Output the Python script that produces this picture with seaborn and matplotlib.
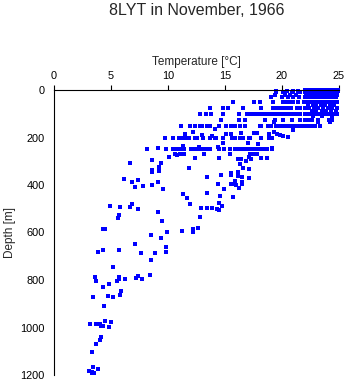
import matplotlib
matplotlib.use("Agg")
import matplotlib.pyplot as plt
import seaborn as sns
import pandas as pd

# Temperatures (deg C) recorded at the standard sampling depths (m)
temps_0m = [22.0, 22.3, 22.6, 22.9, 23.2, 23.5, 23.8, 24.1, 24.4, 24.7, 24.9]
temps_5m = [19.5, 20.4, 21.0, 21.4, 22.1, 22.5, 22.8, 23.1, 23.4, 23.7, 24.0, 24.3, 24.6, 24.9]
temps_10m = [19.5, 20.1, 20.9, 21.6, 22.0, 22.3, 22.6, 22.9, 23.2, 23.5, 23.8, 24.1, 24.4, 24.7]
temps_20m = [19.4, 20.3, 20.7, 21.2, 22.1, 22.4, 22.7, 23.0, 23.3, 23.6, 23.9, 24.2, 24.5, 24.8]
temps_30m = [19.0, 20.0, 20.5, 21.0, 21.5, 22.0, 22.3, 22.6, 22.9, 23.2, 23.5, 23.8, 24.1, 24.4, 24.7]
temps_50m = [15.7, 17.5, 18.1, 19.2, 20.1, 20.4, 20.7, 21.0, 21.4, 21.9, 22.2, 22.5, 22.8, 23.1,
             23.4, 23.7, 24.0, 24.3, 24.6, 24.8]
temps_62m = [22.3, 22.7, 23.0, 23.4, 23.8, 24.2, 24.6]
temps_75m = [13.7, 14.8, 15.3, 16.6, 18.2, 19.2, 19.5, 19.7, 20.1, 20.4, 20.8, 21.3, 21.6, 22.0,
             22.4, 22.8, 23.2, 23.6, 24.0, 24.4, 24.8]
temps_87m = [22.6, 23.0, 23.5, 23.9, 24.3, 24.7]
temps_100m = [12.8, 13.3, 13.8, 14.8, 16.2, 16.9, 17.1, 17.3, 17.5, 17.8, 18.2, 18.4, 18.7, 19.0,
              19.3, 19.6, 19.8, 20.1, 20.3, 20.6, 21.0, 21.3, 21.6, 22.0, 22.2, 22.5, 22.8, 23.1,
              23.4, 23.7, 24.0, 24.3, 24.6, 24.8]
temps_110m = [22.7, 23.5, 24.4]
temps_125m = [14.65, 16.2, 16.75, 18.5, 19.4, 20.1, 20.85, 21.6, 22.0, 22.3, 22.6, 23.2, 24.1, 24.35]
temps_135m = [19.3, 23.2, 24.2]
temps_150m = [11.1, 11.9, 12.4, 12.8, 13.0, 13.4, 13.7, 14.5, 15.1, 15.5, 15.9, 16.3, 16.75, 18.1,
              18.2, 18.8, 19.0, 19.5, 19.7, 20.1, 20.3, 20.6, 20.9, 21.1, 21.5, 21.8, 22.1, 22.4,
              22.75, 22.9, 23.3]
temps_200m = [9.7, 10.4, 11.0, 11.2, 11.6, 11.85, 12.4, 12.5, 13.1, 13.7, 14.1, 14.2, 14.8, 15.6,
              15.9, 16.3, 16.55, 17.1, 17.2, 18.2, 18.9, 19.1]
temps_250m = [8.2, 9.85, 10.4, 10.5, 10.8, 11.1, 11.4, 12.0, 12.3, 12.6, 12.8, 13.1, 13.4, 13.7,
              14.5, 14.9, 15.4, 15.9, 16.2, 16.55, 16.9, 17.2, 17.5, 17.8, 18.1, 18.4, 18.7, 19.1]

# Individual readings in the thermocline (150-600 m)
mid_depth = [165, 168, 178, 180, 180, 180, 178, 184, 184, 189, 189, 194, 194, 196, 187, 187, 187,
             222, 224, 227, 234, 241, 240, 246, 246, 268, 268, 268, 268, 270, 268, 268, 268, 274,
             282, 281, 288, 288, 288, 288, 291, 291, 292, 296, 300, 307, 307, 313, 326, 330, 330,
             333, 337, 340, 345, 345, 348, 358, 359, 361, 365, 368, 369, 376, 379, 383, 386, 386,
             389, 397, 397, 397, 396, 399, 400, 405, 410, 414, 415, 417, 435, 438, 446, 452, 456,
             477, 479, 481, 487, 487, 494, 494, 498, 498, 498, 501, 502, 505, 515, 526, 535, 540,
             552, 581, 584, 586, 586, 595, 598, 599]
mid_temp = [14.1, 21.0, 12.2, 16.4, 17.5, 17.8, 19.3, 11.5, 18.9, 13.0, 19.8, 13.9, 20.1, 20.5,
            15.1, 15.5, 19.6, 14.8, 17.0, 17.9, 11.35, 12.75, 14.4, 9.1, 19.1, 10.6, 11.05, 11.4,
            13.2, 15.4, 17.2, 17.5, 17.8, 10.8, 10.1, 17.1, 12.4, 14.5, 18.2, 18.65, 16.1, 16.4,
            17.3, 8.6, 16.8, 6.7, 9.4, 16.3, 9.2, 11.8, 16.55, 17.1, 8.6, 9.2, 8.6, 16.1, 15.5,
            14.65, 15.5, 16.1, 16.5, 13.4, 17.1, 6.1, 7.4, 15.9, 9.15, 16.5, 6.8, 14.4, 15.5, 15.7,
            16.5, 16.0, 8.6, 7.8, 7.1, 16.2, 14.9, 9.6, 13.45, 11.3, 14.6, 15.7, 11.7, 14.5, 6.8,
            11.9, 4.9, 14.7, 5.8, 6.7, 12.9, 13.4, 13.9, 7.4, 14.3, 14.45, 9.1, 5.7, 12.85, 5.65,
            9.5, 12.6, 12.2, 4.3, 4.5, 11.25, 9.9, 12.2]

# Individual readings in deep water (600-1200 m)
deep_depth = [611, 625, 650, 662, 672, 672, 681, 683, 685, 688, 717, 745, 779, 782, 786, 789, 792,
              794, 797, 797, 803, 805, 818, 831, 848, 865, 867, 873, 873, 911, 973, 975, 987, 987,
              987, 987, 994, 994, 997, 1041, 1053, 1071, 1105, 1168, 1173, 1184, 1188, 1190, 1193]
deep_temp = [8.5, 9.4, 7.1, 9.8, 4.3, 5.7, 9.85, 3.9, 7.6, 8.9, 8.5, 5.2, 8.4, 7.4, 5.7, 3.6, 7.2,
             5.7, 6.2, 7.7, 3.65, 5.5, 4.8, 4.3, 5.9, 5.8, 4.7, 3.4, 5.2, 4.4, 4.5, 5.0, 3.2, 3.65,
             3.85, 4.0, 4.1, 4.3, 4.85, 4.1, 4.0, 3.7, 3.3, 3.45, 3.9, 3.1, 3.3, 3.5, 3.35]

x_ticks = [0, 5, 10, 15, 20, 25]
y_ticks = [0, 200, 400, 600, 800, 1000, 1200]

standard_rows = [
    (0, temps_0m), (5, temps_5m), (10, temps_10m), (20, temps_20m), (30, temps_30m),
    (50, temps_50m), (62, temps_62m), (75, temps_75m), (87, temps_87m), (100, temps_100m),
    (110, temps_110m), (125, temps_125m), (135, temps_135m), (150, temps_150m),
    (200, temps_200m), (250, temps_250m),
]

depth = []
temp = []
for d, ts in standard_rows:
    depth += [d] * len(ts)
    temp += ts
depth += mid_depth + deep_depth
temp += mid_temp + deep_temp

df = pd.DataFrame({"Temperature": temp, "Depth": depth})

sns.set_style("white")
plt.rcParams["font.family"] = ["Liberation Sans", "DejaVu Sans"]

fig = plt.figure(figsize=(3.48, 3.84), dpi=100)
ax = fig.add_axes([54 / 348, 1 - 375 / 384, 285 / 348, 285 / 384])

sns.scatterplot(data=df, x="Temperature", y="Depth", marker="s", s=5,
                color="#0000ff", linewidth=0, ax=ax, legend=False, clip_on=False)

ax.set_xlim(0, 25)
ax.set_ylim(1200, 0)
ax.xaxis.set_ticks_position("top")
ax.xaxis.set_label_position("top")
ax.set_xticks(x_ticks)
ax.set_yticks(y_ticks)
ax.set_xticklabels([str(v) for v in x_ticks])
ax.set_yticklabels([str(v) for v in y_ticks])

for side in ("right", "bottom"):
    ax.spines[side].set_visible(False)
for side in ("left", "top"):
    ax.spines[side].set_color("black")
    ax.spines[side].set_linewidth(0.8)

ax.tick_params(axis="both", direction="out", length=3.6, width=0.8, color="black",
               labelsize=7.9, labelcolor="black")
ax.tick_params(axis="x", pad=3.2)
ax.tick_params(axis="y", pad=3.0)

ax.set_xlabel("Temperature [°C]", fontsize=8.5, labelpad=4)
ax.set_ylabel("Depth [m]", fontsize=8.5, labelpad=3)

fig.text(196.5 / 348, 1 - 10.5 / 384, "8LYT in November, 1966", ha="center", va="center",
         fontsize=11.5)

fig.savefig("out.png", dpi=100)
